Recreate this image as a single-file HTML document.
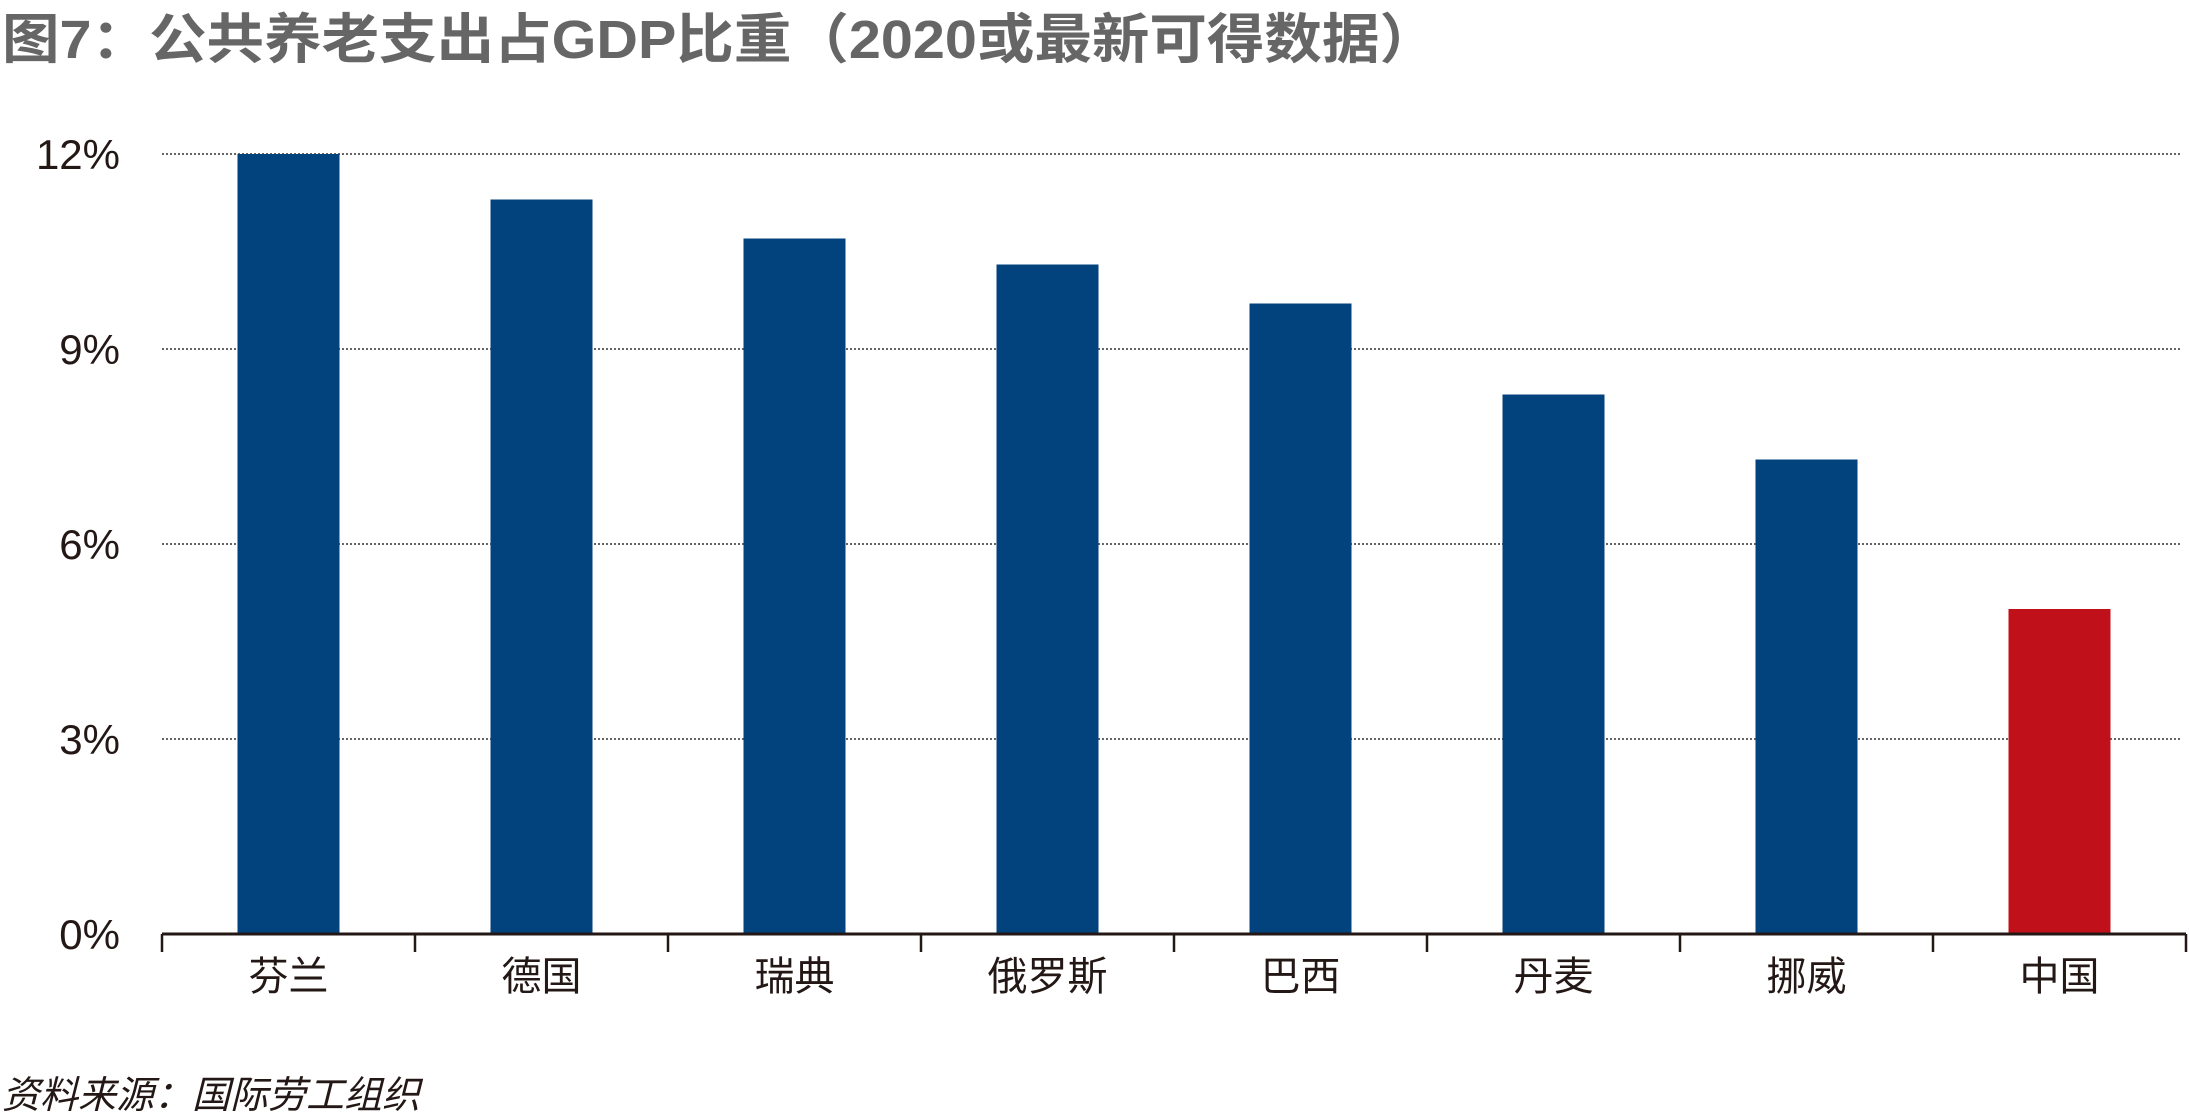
<!DOCTYPE html>
<html><head><meta charset="utf-8"><style>
body{margin:0;background:#fff;}
svg text{font-family:"Liberation Sans","Noto Sans CJK SC",sans-serif;}
</style></head><body>
<svg width="2189" height="1115" viewBox="0 0 2189 1115">
<text x="2" y="58" font-size="54" font-weight="bold" fill="#666" textLength="1435" lengthAdjust="spacingAndGlyphs">图7：公共养老支出占GDP比重（2020或最新可得数据）</text>
<g id="grid"></g><g id="bars"></g><g id="axis"></g>
<text x="2" y="1108" font-size="38" font-style="italic" fill="#231815">资料来源：国际劳工组织</text>
</svg>
<script>
const categories=["芬兰","德国","瑞典","俄罗斯","巴西","丹麦","挪威","中国"];
const values=[12.0,11.3,10.7,10.3,9.7,8.3,7.3,5.0];
const tickValues=[0,3,6,9,12];
const tickLabels=["0%","3%","6%","9%","12%"];
const ns="http://www.w3.org/2000/svg";
const x0=162,x1=2186,y0=934,yTop=154,yMax=12;
const bw=(x1-x0)/categories.length;
const y=v=>y0-(v/yMax)*(y0-yTop);
const xc=i=>x0+bw*(i+0.5);
function mk(t,a,p){const e=document.createElementNS(ns,t);for(const k in a)e.setAttribute(k,a[k]);p.appendChild(e);return e;}
const g=document.getElementById('grid'),b=document.getElementById('bars'),ax=document.getElementById('axis');
tickValues.forEach((v,i)=>{
 if(v>0){const l=mk('line',{x1:x0,x2:2180,y1:y(v),y2:y(v),stroke:'#333','stroke-width':1.5,'stroke-dasharray':'2 2'},g);
 
 }
 const t=mk('text',{x:120,y:y(v)+15,'font-size':42,'text-anchor':'end',fill:'#231815'},g);
 t.textContent=tickLabels[i];
 
 
});
categories.forEach((c,i)=>{
 const r=mk('rect',{x:xc(i)-51,y:y(values[i]),width:102,height:y0-y(values[i]),fill:c==="中国"?"#c0111b":"#02427d"},b);
 
 
 const t=mk('text',{x:xc(i),y:990,'font-size':40,'text-anchor':'middle',fill:'#231815'},ax);
 t.textContent=c;
 
 
});
const base=mk('line',{x1:x0,x2:x1,y1:y0,y2:y0,stroke:'#231815','stroke-width':3},ax);


for(let i=0;i<=categories.length;i++){
 const tk=mk('line',{x1:x0+bw*i,x2:x0+bw*i,y1:y0,y2:y0+18,stroke:'#231815','stroke-width':2.5},ax);
 
 
}
</script>
</body></html>
